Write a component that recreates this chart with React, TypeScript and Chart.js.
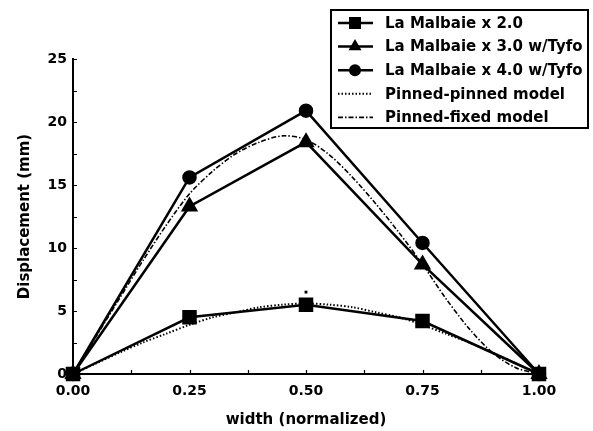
import React, { useEffect, useRef } from 'react';
import { Chart, registerables } from 'chart.js';
Chart.register(...registerables);

// ---- data ----
const widthPos = [0, 0.25, 0.5, 0.75, 1.0];
const malbaie20 = [0, 4.5, 5.5, 4.2, 0];
const malbaie30 = [0, 13.3, 18.4, 8.7, 0];
const malbaie40 = [0, 15.6, 20.9, 10.4, 0];

const modelPos = [0, 0.05, 0.1, 0.15, 0.2, 0.25, 0.3, 0.35, 0.4, 0.45, 0.5, 0.55, 0.6, 0.65, 0.7, 0.75, 0.8, 0.85, 0.9, 0.95, 1.0];
const pinnedPinned = [0, 0.85, 1.7, 2.5, 3.2, 3.9, 4.5, 4.9, 5.3, 5.5, 5.6, 5.5, 5.3, 4.9, 4.5, 3.9, 3.2, 2.5, 1.7, 0.85, 0];
const pinnedFixed = [0, 3.0, 6.0, 9.0, 11.8, 14.3, 16.1, 17.5, 18.4, 18.9, 18.6, 17.4, 15.6, 13.5, 11.2, 8.7, 6.0, 3.6, 1.7, 0.5, 0];

const strayX = [0.5];
const strayY = [6.5];

const seriesLabels = [
  'La Malbaie x 2.0',
  'La Malbaie x 3.0 w/Tyfo',
  'La Malbaie x 4.0 w/Tyfo',
  'Pinned-pinned model',
  'Pinned-fixed model',
];
const xTickValues = [0, 0.25, 0.5, 0.75, 1.0];
const yTickValues = [0, 5, 10, 15, 20, 25];
const xTitle = 'width (normalized)';
const yTitle = 'Displacement (mm)';

const FONT = '"DejaVu Sans", Verdana, sans-serif';

const toPts = (xs: number[], ys: number[]) => xs.map((x, i) => ({ x, y: ys[i] }));

function drawMarker(ctx: CanvasRenderingContext2D, style: string, r: number, x: number, y: number) {
  ctx.beginPath();
  if (style === 'rect') {
    const s = Math.SQRT1_2 * r;
    ctx.rect(x - s, y - s, 2 * s, 2 * s);
  } else if (style === 'triangle') {
    ctx.moveTo(x, y - r);
    ctx.lineTo(x + r * Math.sin(Math.PI / 3), y + r / 2);
    ctx.lineTo(x - r * Math.sin(Math.PI / 3), y + r / 2);
    ctx.closePath();
  } else {
    ctx.arc(x, y, r, 0, Math.PI * 2);
  }
  ctx.fill();
}

const axesPlugin = {
  id: 'axesPlugin',
  beforeDatasetsDraw(chart: any) {
    const ctx = chart.ctx;
    const xs = chart.scales.x;
    const ys = chart.scales.y;
    const { left, right, top, bottom } = chart.chartArea;
    ctx.save();
    ctx.strokeStyle = '#000';
    ctx.lineWidth = 2;
    ctx.beginPath();
    ctx.moveTo(left, top - 1);
    ctx.lineTo(left, bottom);
    ctx.lineTo(right + 1, bottom);
    ctx.stroke();
    ctx.lineWidth = 1.2;
    ctx.beginPath();
    for (let v = 0; v <= 25.001; v += 2.5) {
      const y = Math.round(ys.getPixelForValue(v)) + 0.5;
      ctx.moveTo(left, y);
      ctx.lineTo(left + 4, y);
    }
    for (let v = 0; v <= 1.0001; v += 0.125) {
      const x = Math.round(xs.getPixelForValue(v)) + 0.5;
      ctx.moveTo(x, bottom);
      ctx.lineTo(x, bottom - 4);
    }
    ctx.stroke();
    ctx.restore();
  },
};

const legendPlugin = {
  id: 'boxLegend',
  afterDraw(chart: any) {
    const ctx = chart.ctx;
    const bx = 331, by = 10, bw = 257, bh = 118;
    ctx.save();
    ctx.fillStyle = '#fff';
    ctx.fillRect(bx, by, bw, bh);
    ctx.strokeStyle = '#000';
    ctx.lineWidth = 2;
    ctx.strokeRect(bx, by, bw, bh);
    ctx.font = `bold 15px ${FONT}`;
    ctx.textBaseline = 'middle';
    seriesLabels.forEach((label, i) => {
      const ds = chart.data.datasets[i];
      const y = 23 + i * 23.6;
      ctx.save();
      ctx.strokeStyle = '#000';
      ctx.lineWidth = ds.borderWidth;
      ctx.setLineDash(ds.borderDash || []);
      ctx.beginPath();
      ctx.moveTo(338, y);
      ctx.lineTo(373, y);
      ctx.stroke();
      ctx.restore();
      if (ds.pointRadius > 0) {
        ctx.fillStyle = '#000';
        drawMarker(ctx, ds.pointStyle, ds.pointRadius, 355, y);
      }
      ctx.fillStyle = '#000';
      ctx.fillText(label, 385, y + 1);
    });
    ctx.restore();
  },
};

export default function App() {
  const ref = useRef<HTMLCanvasElement>(null);
  useEffect(() => {
    document.body.style.margin = '0';
    const tickFont = { family: FONT, size: 14, weight: 'bold' as const };
    const titleFont = { family: FONT, size: 15, weight: 'bold' as const };
    const chart = new Chart(ref.current!, {
      type: 'scatter',
      data: {
        datasets: [
          {
            label: seriesLabels[0],
            data: toPts(widthPos, malbaie20),
            showLine: true,
            borderColor: '#000',
            backgroundColor: '#000',
            borderWidth: 2.5,
            pointStyle: 'rect',
            pointRadius: 8.5,
            clip: false,
          },
          {
            label: seriesLabels[1],
            data: toPts(widthPos, malbaie30),
            showLine: true,
            borderColor: '#000',
            backgroundColor: '#000',
            borderWidth: 2.5,
            pointStyle: 'triangle',
            pointRadius: 7.5,
            clip: false,
          },
          {
            label: seriesLabels[2],
            data: toPts(widthPos, malbaie40),
            showLine: true,
            borderColor: '#000',
            backgroundColor: '#000',
            borderWidth: 2.5,
            pointStyle: 'circle',
            pointRadius: 6,
            clip: false,
          },
          {
            label: seriesLabels[3],
            data: toPts(modelPos, pinnedPinned),
            showLine: true,
            borderColor: '#000',
            backgroundColor: '#000',
            borderWidth: 2,
            borderDash: [1.5, 2],
            pointRadius: 0,
            tension: 0.3,
            clip: false,
          },
          {
            label: seriesLabels[4],
            data: toPts(modelPos, pinnedFixed),
            showLine: true,
            borderColor: '#000',
            backgroundColor: '#000',
            borderWidth: 1.6,
            borderDash: [5, 2, 1.5, 2],
            pointRadius: 0,
            tension: 0.3,
            clip: false,
          },
          {
            label: 'point',
            data: toPts(strayX, strayY),
            showLine: false,
            backgroundColor: '#000',
            borderColor: '#000',
            borderWidth: 0,
            pointStyle: 'rect',
            pointRadius: 2,
            clip: false,
          },
        ],
      },
      options: {
        animation: false,
        responsive: false,
        maintainAspectRatio: false,
        layout: { padding: { top: 59, right: 54, left: 0, bottom: 0 } },
        plugins: { legend: { display: false }, tooltip: { enabled: false } },
        scales: {
          x: {
            type: 'linear',
            min: 0,
            max: 1,
            afterBuildTicks: (s: any) => { s.ticks = xTickValues.map((v) => ({ value: v })); },
            afterFit: (s: any) => { s.height = 57; },
            grid: { display: false, drawTicks: false },
            border: { display: false },
            ticks: {
              color: '#000',
              font: tickFont,
              padding: 9,
              maxRotation: 0,
              autoSkip: false,
              callback: (v: any) => Number(v).toFixed(2),
            },
            title: {
              display: true,
              text: xTitle,
              color: '#000',
              font: titleFont,
              padding: { top: 0, bottom: 2 },
            },
          },
          y: {
            type: 'linear',
            min: 0,
            max: 25,
            afterBuildTicks: (s: any) => { s.ticks = yTickValues.map((v) => ({ value: v })); },
            afterFit: (s: any) => { s.width = 73; },
            grid: { display: false, drawTicks: false },
            border: { display: false },
            ticks: {
              color: '#000',
              font: tickFont,
              padding: 6,
              autoSkip: false,
              callback: (v: any) => String(v),
            },
            title: {
              display: true,
              text: yTitle,
              color: '#000',
              font: titleFont,
              padding: { top: 16, bottom: 0 },
            },
          },
        },
      },
      plugins: [axesPlugin, legendPlugin],
    });
    return () => chart.destroy();
  }, []);
  return <canvas ref={ref} width={593} height={431} style={{ display: 'block' }} />;
}
